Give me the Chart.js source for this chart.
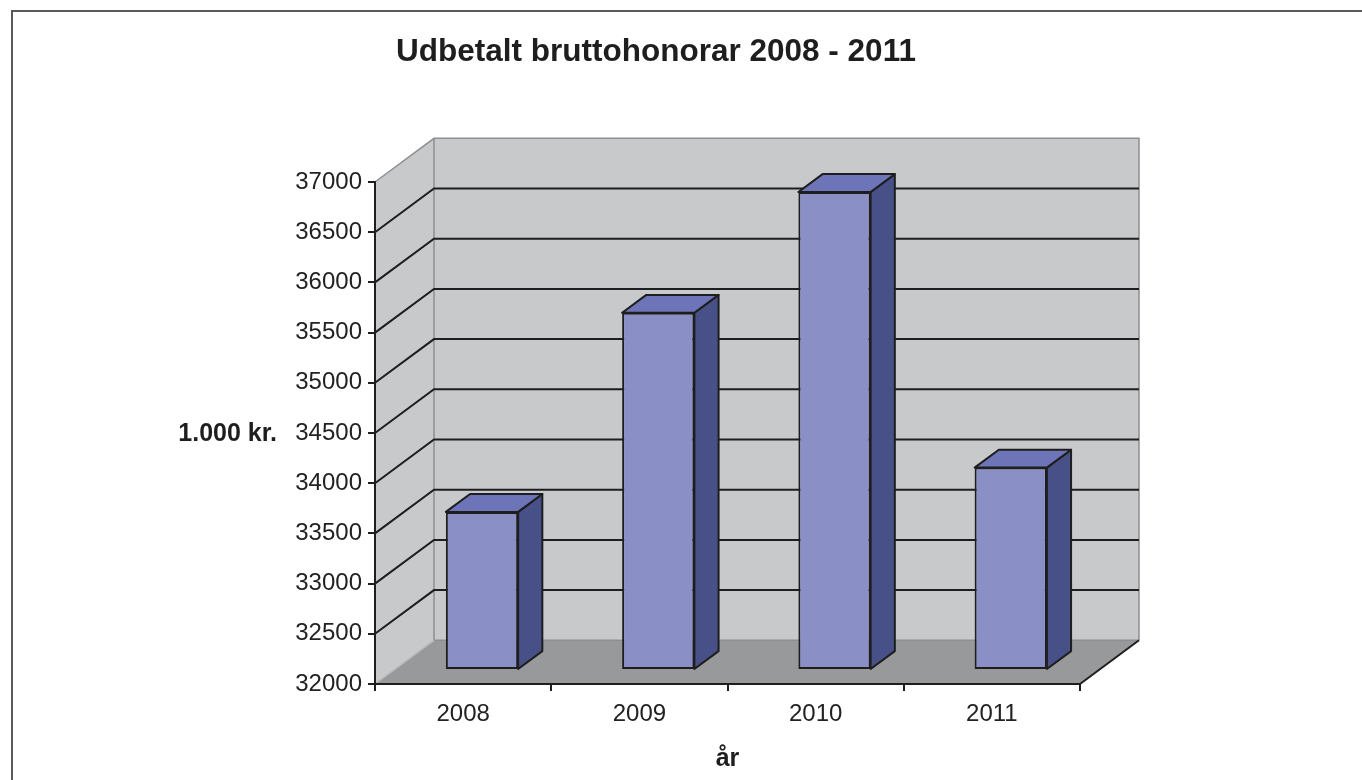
<!DOCTYPE html>
<html>
<head>
<meta charset="utf-8">
<script src="https://cdn.jsdelivr.net/npm/chart.js@4.4.1/dist/chart.umd.min.js"></script>
<style>
html,body{margin:0;padding:0;background:#fff;}
#wrap{width:1362px;height:780px;position:relative;}
</style>
</head>
<body>
<div id="wrap"><canvas id="c" width="1362" height="780"></canvas></div>
<script>
// ---- data ----
const categories = ['2008', '2009', '2010', '2011'];
const honorar = [33575, 35558, 36761, 34016];
const yMin = 32000;
const yMax = 37000;
const yStep = 500;
const chartTitle = 'Udbetalt bruttohonorar 2008 - 2011';
const yTitle = '1.000 kr.';
const xTitle = 'år';

// ---- 3D look ----
const DX = 59, DY = -43.7;      // full depth offset of the walls
const F1 = 0.32, F2 = 0.73;     // bar front / back depth fraction
const FONT = "'Liberation Sans', Arial, sans-serif";
const C_WALL = '#C8C9CB', C_FLOOR = '#98999B', C_EDGE = '#8E8F91';
const C_FRONT = '#8A8FC6', C_TOP = '#6D74B8', C_SIDE = '#485088', C_LINE = '#1E1E1E';

const threeD = {
  id: 'threeD',
  beforeDraw(chart) {
    const ctx = chart.ctx;
    const {left, right, top, bottom} = chart.chartArea;
    const y = chart.scales.y;
    ctx.save();
    ctx.fillStyle = '#fff';
    ctx.fillRect(0, 0, chart.width, chart.height);
    // outer frame
    ctx.strokeStyle = '#5A5A5A';
    ctx.lineWidth = 2;
    ctx.strokeRect(12, 11, chart.width + 20, chart.height + 20);
    // back wall
    ctx.fillStyle = C_WALL;
    ctx.fillRect(left + DX, top + DY, right - left, bottom - top);
    // left wall
    ctx.beginPath();
    ctx.moveTo(left, top); ctx.lineTo(left + DX, top + DY);
    ctx.lineTo(left + DX, bottom + DY); ctx.lineTo(left, bottom);
    ctx.closePath(); ctx.fill();
    // floor
    ctx.fillStyle = C_FLOOR;
    ctx.beginPath();
    ctx.moveTo(left, bottom); ctx.lineTo(right, bottom);
    ctx.lineTo(right + DX, bottom + DY); ctx.lineTo(left + DX, bottom + DY);
    ctx.closePath(); ctx.fill();
    // wall edges
    ctx.strokeStyle = C_EDGE;
    ctx.lineWidth = 1.5;
    ctx.beginPath();
    ctx.moveTo(left, top); ctx.lineTo(left + DX, top + DY);
    ctx.lineTo(right + DX, top + DY); ctx.lineTo(right + DX, bottom + DY);
    ctx.moveTo(left + DX, top + DY); ctx.lineTo(left + DX, bottom + DY);
    ctx.lineTo(right + DX, bottom + DY);
    ctx.stroke();
    ctx.strokeStyle = '#B8B9BB';
    ctx.beginPath();
    ctx.moveTo(left, bottom); ctx.lineTo(left + DX, bottom + DY);
    ctx.stroke();
    // gridlines on walls
    ctx.strokeStyle = C_LINE;
    ctx.lineWidth = 2;
    y.ticks.forEach(t => {
      if (t.value <= yMin || t.value >= yMax) return;
      const py = y.getPixelForValue(t.value);
      ctx.beginPath();
      ctx.moveTo(left, py); ctx.lineTo(left + DX, py + DY); ctx.lineTo(right + DX, py + DY);
      ctx.stroke();
    });
    // floor right edge
    ctx.beginPath();
    ctx.moveTo(right, bottom); ctx.lineTo(right + DX, bottom + DY);
    ctx.stroke();
    ctx.restore();
  },
  beforeDatasetsDraw(chart) {
    chart.ctx.save();
    chart.ctx.translate(DX * F1, DY * F1);
  },
  afterDatasetsDraw(chart) {
    const ctx = chart.ctx;
    const ox = DX * (F2 - F1), oy = DY * (F2 - F1);
    chart.getDatasetMeta(0).data.forEach(bar => {
      const {x, y, base, width} = bar.getProps(['x', 'y', 'base', 'width'], true);
      const l = x - width / 2, r = x + width / 2;
      ctx.lineWidth = 2;
      ctx.lineJoin = 'round';
      ctx.strokeStyle = C_LINE;
      ctx.fillStyle = C_SIDE;
      ctx.beginPath();
      ctx.moveTo(r, y); ctx.lineTo(r + ox, y + oy); ctx.lineTo(r + ox, base + oy); ctx.lineTo(r, base);
      ctx.closePath(); ctx.fill(); ctx.stroke();
      ctx.fillStyle = C_TOP;
      ctx.beginPath();
      ctx.moveTo(l, y); ctx.lineTo(l + ox, y + oy); ctx.lineTo(r + ox, y + oy); ctx.lineTo(r, y);
      ctx.closePath(); ctx.fill(); ctx.stroke();
    });
    ctx.restore();
  },
  afterDraw(chart) {
    const ctx = chart.ctx;
    const {left, right} = chart.chartArea;
    const y = chart.scales.y;
    ctx.save();
    ctx.fillStyle = '#1E1E1E';
    ctx.textBaseline = 'middle';
    ctx.textAlign = 'center';
    ctx.font = 'bold 31.5px ' + FONT;
    ctx.fillText(chartTitle, 656, 52);
    ctx.font = 'bold 25px ' + FONT;
    ctx.fillText(xTitle, (left + right) / 2, 759);
    ctx.textAlign = 'right';
    ctx.fillText(yTitle, left - 98, y.getPixelForValue(34500) + 1);
    ctx.restore();
  }
};

new Chart(document.getElementById('c'), {
  type: 'bar',
  data: {
    labels: categories,
    datasets: [{
      data: honorar,
      base: yMin,
      backgroundColor: C_FRONT,
      borderColor: C_LINE,
      borderWidth: 2,
      borderSkipped: false,
      categoryPercentage: 1,
      barPercentage: 0.41
    }]
  },
  options: {
    responsive: false,
    animation: false,
    events: [],
    layout: {padding: {left: 275, right: 282, top: 182, bottom: 46}},
    plugins: {legend: {display: false}, title: {display: false}, tooltip: {enabled: false}},
    scales: {
      x: {
        offset: true,
        grid: {offset: true, drawOnChartArea: false, drawTicks: true, tickLength: 7, color: C_LINE, lineWidth: 2},
        border: {display: true, color: C_LINE, width: 2},
        ticks: {color: '#222', font: {family: FONT, size: 24}, padding: 9},
        afterFit(s) { s.height = 50; }
      },
      y: {
        min: yMin,
        max: yMax,
        ticks: {stepSize: yStep, color: '#222', font: {family: FONT, size: 24}, padding: 6,
                callback: v => String(v)},
        grid: {drawOnChartArea: false, drawTicks: true, tickLength: 7, color: C_LINE, lineWidth: 2},
        border: {display: true, color: C_LINE, width: 2},
        afterFit(s) { s.width = 100; }
      }
    }
  },
  plugins: [threeD]
});
</script>
</body>
</html>
